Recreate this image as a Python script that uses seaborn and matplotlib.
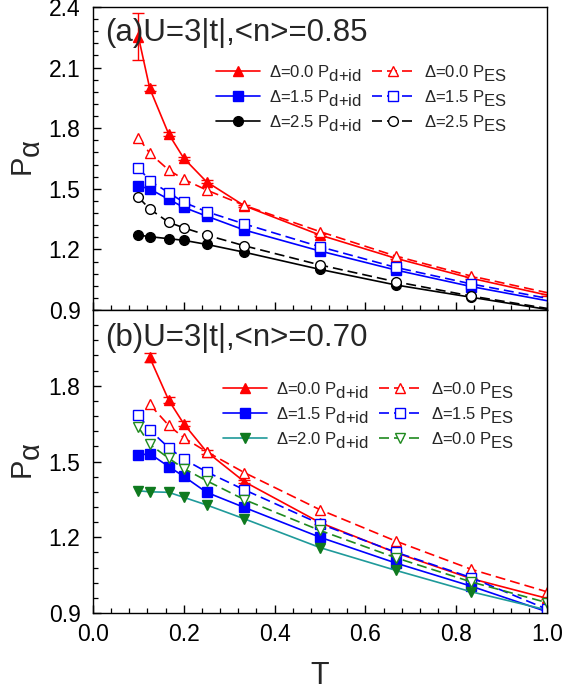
import numpy as np
import pandas as pd
import matplotlib
matplotlib.use("Agg")
import matplotlib.pyplot as plt
from matplotlib.ticker import MultipleLocator
import seaborn as sns

try:
    import matplotlib._mathtext as _mt
    _mt.SHRINK_FACTOR = 1.0
    _mt.FontConstantsBase.sub1 = 0.55
    _mt.FontConstantsBase.sub2 = 0.7
except Exception:
    pass

# ---------------- data ----------------
T = [0.1, 0.125, 0.1667, 0.2, 0.25, 0.3333, 0.5, 0.6667, 0.8333, 1.0]
T_b = [0.1, 0.125, 0.1667, 0.2, 0.25, 0.3333, 0.5, 0.6667, 0.8333, 1.0]
T_b_red = [0.125, 0.1667, 0.2, 0.25, 0.3333, 0.5, 0.6667, 0.8333, 1.0]

# panel (a): U=3|t|, <n>=0.85
a_d00 = [2.253, 1.997, 1.771, 1.651, 1.535, 1.416, 1.271, 1.156, 1.057, 0.974]
a_d00_err = [0.115, 0.015, 0.010, 0.008, 0.008, 0.006, 0.005, 0.004, 0.004, 0.004]
a_es00 = [1.753, 1.676, 1.593, 1.547, 1.494, 1.418, 1.288, 1.167, 1.068, 0.986]
a_d15 = [1.515, 1.499, 1.448, 1.408, 1.365, 1.296, 1.192, 1.098, 1.016, 0.946]
a_es15 = [1.605, 1.540, 1.481, 1.433, 1.387, 1.326, 1.213, 1.111, 1.029, 0.958]
a_d25 = [1.271, 1.263, 1.253, 1.245, 1.225, 1.186, 1.101, 1.024, 0.963, 0.903]
a_es25 = [1.458, 1.400, 1.334, 1.307, 1.271, 1.218, 1.123, 1.040, 0.969, 0.908]

# panel (b): U=3|t|, <n>=0.70
b_d00 = [1.912, 1.743, 1.649, 1.539, 1.420, 1.258, 1.139, 1.036, 0.958]
b_d00_err = [0.017, 0.012, 0.010, 0.008, 0.006, 0.005, 0.004, 0.004, 0.004]
b_es00 = [1.726, 1.643, 1.594, 1.539, 1.456, 1.309, 1.185, 1.073, 0.984]
b_d15 = [1.525, 1.531, 1.480, 1.441, 1.378, 1.318, 1.200, 1.098, 1.006, 0.905]
b_es15 = [1.686, 1.624, 1.555, 1.509, 1.459, 1.388, 1.253, 1.141, 1.040, 0.915]
b_d20 = [1.384, 1.380, 1.378, 1.358, 1.328, 1.273, 1.159, 1.069, 0.984, 0.912]
b_es20 = [1.636, 1.568, 1.513, 1.472, 1.424, 1.349, 1.227, 1.119, 1.023, 0.941]

labels_a = ["Δ=0.0 P$_{\\mathrm{d{+}id}}$", "Δ=1.5 P$_{\\mathrm{d{+}id}}$", "Δ=2.5 P$_{\\mathrm{d{+}id}}$",
            "Δ=0.0 P$_{\\mathrm{ES}}$", "Δ=1.5 P$_{\\mathrm{ES}}$", "Δ=2.5 P$_{\\mathrm{ES}}$"]
labels_b = ["Δ=0.0 P$_{\\mathrm{d{+}id}}$", "Δ=1.5 P$_{\\mathrm{d{+}id}}$", "Δ=2.0 P$_{\\mathrm{d{+}id}}$",
            "Δ=0.0 P$_{\\mathrm{ES}}$", "Δ=1.5 P$_{\\mathrm{ES}}$", "Δ=0.0 P$_{\\mathrm{ES}}$"]
title_a = "(a)U=3|t|,<n>=0.85"
title_b = "(b)U=3|t|,<n>=0.70"

# ---------------- style ----------------
sns.set_theme(style="ticks")
plt.rcParams["font.family"] = ["Liberation Sans", "DejaVu Sans"]
plt.rcParams["mathtext.fontset"] = "custom"
plt.rcParams["mathtext.rm"] = "Liberation Sans"
plt.rcParams["mathtext.it"] = "Liberation Sans:italic"
plt.rcParams["mathtext.bf"] = "Liberation Sans:bold"
plt.rcParams["axes.linewidth"] = 1.0
plt.rcParams["axes.edgecolor"] = "black"

fig = plt.figure(figsize=(5.77, 6.95), dpi=100)
left, right = 93 / 577, 547 / 577
ax_a = fig.add_axes([left, 1 - 310 / 695, right - left, 303 / 695])
ax_b = fig.add_axes([left, 1 - 613 / 695, right - left, 303 / 695])

DASH = (0, (6, 3))
LW = 1.2
MS = 7


def series(ax, x, y, color, marker, filled, dashed, mec=None, skip_last=False):
    df = pd.DataFrame({"T": x, "P": y})
    n = len(x)
    kw = dict(color=color, marker=marker, markersize=MS, linewidth=LW,
              markeredgecolor=mec or color, markeredgewidth=1.0)
    if not filled:
        kw["markerfacecolor"] = "white"
    else:
        kw["markerfacecolor"] = mec or color
    if dashed:
        kw["linestyle"] = DASH
    if skip_last:
        kw["markevery"] = list(range(n - 1))
    sns.lineplot(data=df, x="T", y="P", ax=ax, estimator=None, sort=False, **kw)
    return ax.lines[-1]


# panel (a)
h_a = []
ax_a.errorbar(T, a_d00, yerr=a_d00_err, fmt="none", ecolor="red", elinewidth=1.0, capsize=4, capthick=1.0)
h_a.append(series(ax_a, T, a_d00, "red", "^", True, False, skip_last=True))
h_a.append(series(ax_a, T, a_d15, "blue", "s", True, False, skip_last=True))
h_a.append(series(ax_a, T, a_d25, "black", "o", True, False, skip_last=True))
h_a.append(series(ax_a, T, a_es00, "red", "^", False, True, skip_last=True))
h_a.append(series(ax_a, T, a_es15, "blue", "s", False, True, skip_last=True))
h_a.append(series(ax_a, T, a_es25, "black", "o", False, True, skip_last=True))

# panel (b)
h_b = []
ax_b.errorbar(T_b_red, b_d00, yerr=b_d00_err, fmt="none", ecolor="red", elinewidth=1.0, capsize=4, capthick=1.0)
h_b.append(series(ax_b, T_b_red, b_d00, "red", "^", True, False))
h_b.append(series(ax_b, T_b, b_d15, "blue", "s", True, False))
h_b.append(series(ax_b, T_b, b_d20, "#1f9a9a", "v", True, False, mec="#0f7a1f"))
h_b.append(series(ax_b, T_b_red, b_es00, "red", "^", False, True))
h_b.append(series(ax_b, T_b, b_es15, "blue", "s", False, True))
h_b.append(series(ax_b, T_b, b_es20, "#1f8a1f", "v", False, True))

for ax in (ax_a, ax_b):
    ax.set_xlim(0, 1.0)
    ax.xaxis.set_major_locator(MultipleLocator(0.2))
    ax.xaxis.set_minor_locator(MultipleLocator(0.04))
    ax.yaxis.set_minor_locator(MultipleLocator(0.06))
    ax.tick_params(axis="both", which="both", direction="in", top=False, right=False,
                   colors="black", labelcolor="black")
    ax.tick_params(axis="both", which="major", length=6, width=1.0, labelsize=16.5)
    ax.tick_params(axis="both", which="minor", length=3.5, width=0.9)
    ax.tick_params(axis="y", which="major", pad=9)
    ax.tick_params(axis="x", which="major", pad=7)
    ax.set_ylabel("P$_{\\mathrm{α}}$", fontsize=21, labelpad=4)
    for s in ax.spines.values():
        s.set_visible(True)
        s.set_color("black")
        s.set_linewidth(1.0)

ax_a.set_ylim(0.9, 2.4)
ax_a.set_yticks([0.9, 1.2, 1.5, 1.8, 2.1, 2.4])
ax_a.set_yticklabels(["0.9", "1.2", "1.5", "1.8", "2.1", "2.4"])
ax_a.set_xticklabels([])
ax_a.set_xlabel("")

ax_b.set_ylim(0.9, 2.1)
ax_b.set_yticks([0.9, 1.2, 1.5, 1.8])
ax_b.set_yticklabels(["0.9", "1.2", "1.5", "1.8"])
ax_b.set_xticks([0.0, 0.2, 0.4, 0.6, 0.8, 1.0])
ax_b.set_xticklabels(["0.0", "0.2", "0.4", "0.6", "0.8", "1.0"])
ax_b.set_xlabel("T", fontsize=22, labelpad=11)

ax_a.text(0.026, 0.965, title_a, transform=ax_a.transAxes, fontsize=22.5, va="top", ha="left")
ax_b.text(0.026, 0.958, title_b, transform=ax_b.transAxes, fontsize=22.5, va="top", ha="left")

leg_kw = dict(ncol=2, frameon=False, fontsize=12, handlelength=2.6, handletextpad=0.55,
              columnspacing=0.6, borderpad=0, borderaxespad=0, labelspacing=0.25,
              loc="upper left")
ax_a.legend(h_a, labels_a, bbox_to_anchor=(0.272, 0.815), **leg_kw)
ax_b.legend(h_b, labels_b, bbox_to_anchor=(0.287, 0.77), **leg_kw)

fig.savefig("out.png", dpi=100)
